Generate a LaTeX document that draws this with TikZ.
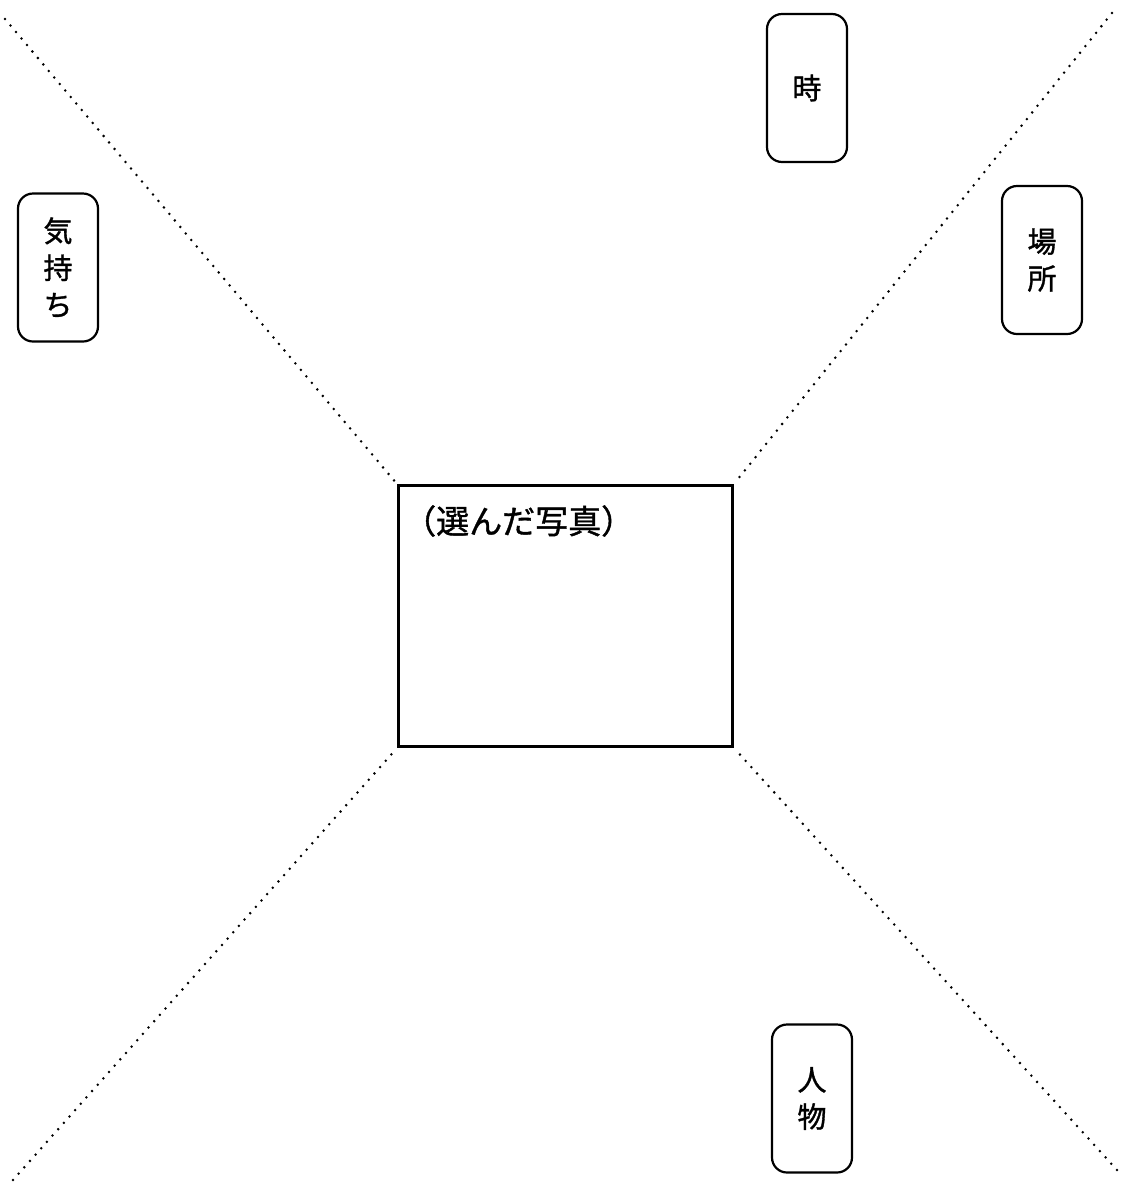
\documentclass[tikz,border=0pt]{standalone}
\usepackage{fontspec}
\newfontfamily\cjk[FakeBold=1.2]{Noto Sans CJK JP}
\tikzset{
  dotline/.style={line width=2.8pt, line cap=round, dash pattern=on 0pt off 8.5pt, black},
  tagbox/.style={draw, line width=2.2pt, rounded corners=15pt, minimum width=80pt, minimum height=148pt,
    inner sep=0pt, align=center, font=\cjk\fontsize{29}{37}\selectfont},
  photobox/.style={draw, line width=2.4pt, minimum width=334pt, minimum height=261pt, inner sep=0pt},
  caption/.style={anchor=west, inner sep=0pt, font=\cjk\fontsize{33}{36}\selectfont}
}
\begin{document}
\begin{tikzpicture}[x=1pt,y=-1pt]
\useasboundingbox (0,0) rectangle (1125,1187);
\node[photobox] (photo) at (565.5,616) {};
\node[caption] (cap) at (403,521) {（選んだ写真）};
\coordinate (tl) at (5,19);
\coordinate (tr) at (1112,13);
\coordinate (bl) at (13,1180);
\coordinate (br) at (1117,1170);
\draw[dotline, shorten >=5pt] (tl) -- (photo.north west);
\draw[dotline, shorten >=5pt] (tr) -- (photo.north east);
\draw[dotline, shorten >=4pt] (bl) -- (photo.south west);
\draw[dotline, shorten >=4pt] (br) -- (photo.south east);
\node[tagbox] (toki) at (807,88) {時};
\node[tagbox] (basho) at (1042,260) {場\\所};
\node[tagbox] (kimochi) at (58,267.5) {気\\持\\ち};
\node[tagbox] (jinbutsu) at (812,1098.5) {人\\物};
\end{tikzpicture}
\end{document}
